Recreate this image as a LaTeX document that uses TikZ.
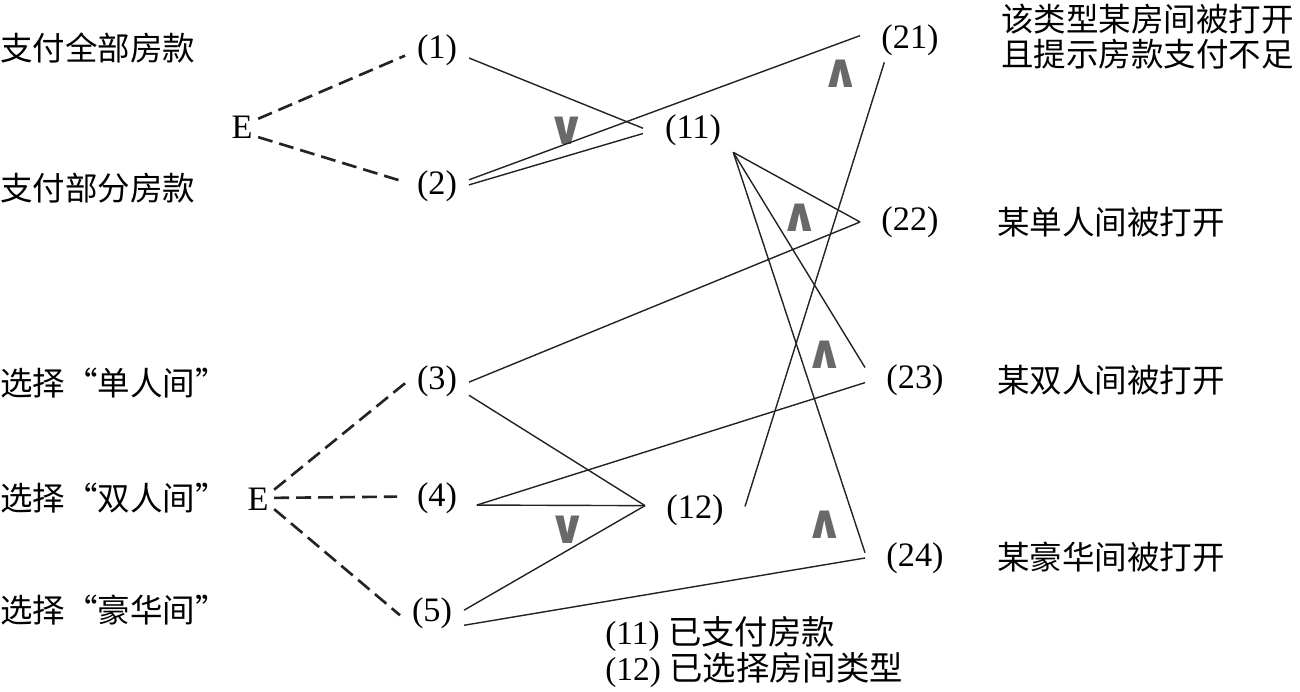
\documentclass[tikz,border=0pt]{standalone}
\usepackage{fontspec}
\setmainfont{Liberation Serif}
\newfontfamily\cjk{Noto Sans CJK SC}
\newfontfamily\symf{DejaVu Sans}
\usetikzlibrary{positioning}
\definecolor{symc}{RGB}{105,105,105}
\definecolor{linec}{RGB}{35,35,35}
\tikzset{
  num/.style={inner sep=0pt, minimum width=36pt, minimum height=22.5pt,
              font=\fontsize{19.5}{22}\selectfont},
  numw/.style={num, minimum width=56.5pt, minimum height=25pt},
  enode/.style={inner sep=0pt, minimum width=18pt, minimum height=11.5pt,
                font=\fontsize{19.5}{22}\selectfont},
  cn/.style={inner sep=0pt, font=\cjk\fontsize{18.5}{20}\selectfont},
  opsym/.style={inner sep=0pt, text=symc, font=\symf\bfseries\fontsize{27}{27}\selectfont},
  dsh/.style={draw=linec, line width=1.5pt, dash pattern=on 8.5pt off 4pt},
  lnk/.style={draw=linec, line width=0.8pt},
}

\begin{document}
\begin{tikzpicture}[x=0.02cm, y=-0.02cm]
  \useasboundingbox (0,0) rectangle (1300,691);
  % causes
  \node[cn, anchor=west] (c1) at (0,48) {支付全部房款};
  \node[cn, anchor=west] (c2) at (0,188) {支付部分房款};
  \node[cn, anchor=west] (c3) at (0,383) {选择“单人间”};
  \node[cn, anchor=west] (c4) at (0,498) {选择“双人间”};
  \node[cn, anchor=west] (c5) at (0,610) {选择“豪华间”};
  \node[num] (n1) at (437,50) {(1)};
  \node[num] (n2) at (437,186) {(2)};
  \node[num] (n3) at (437,381) {(3)};
  \node[num, minimum width=45pt] (n4) at (437,498) {(4)};
  \node[num] (n5) at (432,613) {(5)};
  \node[enode] (e1) at (242,127) {E};
  \node[enode] (e2) at (258,499) {E};

  % intermediates and effects
  \node[numw] (n11) at (693,130) {(11)};
  \node[numw] (n12) at (695,510) {(12)};
  \node[numw] (n21) at (910,40) {(21)};
  \node[numw] (n22) at (910,222) {(22)};
  \node[numw] (n23) at (915,380) {(23)};
  \node[numw] (n24) at (915,558) {(24)};
  \node[cn, anchor=west, align=left] (f21) at (1001,37)
    {该类型某房间被打开\\且提示房款支付不足};
  \node[cn, anchor=west] (f22) at (997,222) {某单人间被打开};
  \node[cn, anchor=west] (f23) at (997,380) {某双人间被打开};
  \node[cn, anchor=west] (f24) at (997,557) {某豪华间被打开};

  % constraints
  \draw[dsh] (e1.27) -- (n1.190);
  \draw[dsh] (e1.-32) -- (n2.173);
  \draw[dsh] (e2.30) -- (n3.184);
  \draw[dsh] (e2.4) -- (n4.178);
  \draw[dsh] (e2.-32) -- (n5.184);

  % or
  \draw[lnk] (n1.-14) -- (n11.178);
  \draw[lnk] (n2.2) -- (n11.184);
  \draw[lnk] (n3.-24) -- (n12.175);
  \draw[lnk] (n4.-10) -- (n12.175);
  \draw[lnk] (n5.5) -- (n12.175);
  \node[opsym] (or11) at (567,131) {∨};
  \node[opsym] (or12) at (568,530) {∨};

  % and
  \draw[lnk] (n2.11) -- (n21.175);
  \draw[lnk] (n12.4) -- (n21.221);
  \draw[lnk] (n11.-29) -- (n22.180);
  \draw[lnk] (n3.-2) -- (n22.180);
  \draw[lnk] (n11.-29) -- (n23.166);
  \draw[lnk] (n4.-10) -- (n23.183);
  \draw[lnk] (n11.-29) -- (n24.174);
  \draw[lnk] (n5.-21) -- (n24.180);
  \node[opsym] (and21) at (841,74) {∧};
  \node[opsym] (and22) at (800,218) {∧};
  \node[opsym] (and23) at (825,355) {∧};
  \node[opsym] (and24) at (825,525) {∧};

  \node[anchor=west, align=left, inner sep=0pt,
        font=\fontsize{19}{21}\selectfont] (key) at (605,652)
    {(11) {\cjk 已支付房款}\\(12) {\cjk 已选择房间类型}};
\end{tikzpicture}
\end{document}
